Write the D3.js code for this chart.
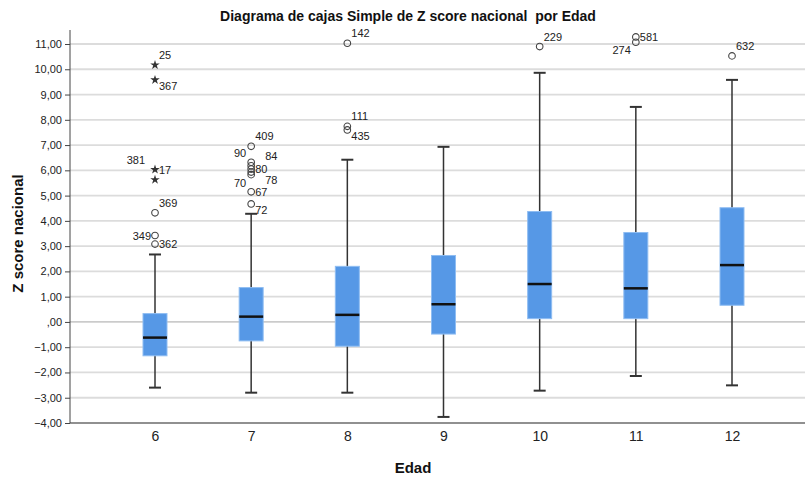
<!DOCTYPE html>
<html>
<head>
<meta charset="utf-8">
<script src="https://cdn.jsdelivr.net/npm/d3@7"></script>
<style>
  body { margin: 0; background: #fff; }
  text { font-family: "Liberation Sans", Arial, sans-serif; }
</style>
</head>
<body>
<svg id="chart" width="806" height="477"></svg>
<script>
// Edad groups and box statistics
var edades   = [6, 7, 8, 9, 10, 11, 12];
var minimos  = [-2.60, -2.80, -2.80, -3.76, -2.72, -2.14, -2.51];
var q1       = [-1.34, -0.75, -0.96, -0.48, 0.13, 0.13, 0.66];
var medianas = [-0.62, 0.21, 0.28, 0.70, 1.50, 1.33, 2.25];
var q3       = [0.33, 1.36, 2.20, 2.63, 4.37, 3.54, 4.52];
var maximos  = [2.67, 4.28, 6.42, 6.93, 9.86, 8.51, 9.58];

// outliers: group, value, case id, kind (o = atypical, * = extreme), label side
var atipicos = [
  {g: 6, v: 10.17, id: "25", k: "*", s: "ne"},
  {g: 6, v: 9.58, id: "367", k: "*", s: "se"},
  {g: 6, v: 6.03, id: "17", k: "*", s: "e"},
  {g: 6, v: 5.63, id: "381", k: "*", s: "nw2"},
  {g: 6, v: 4.32, id: "369", k: "o", s: "ne"},
  {g: 6, v: 3.42, id: "349", k: "o", s: "w"},
  {g: 6, v: 3.08, id: "362", k: "o", s: "e"},
  {g: 7, v: 6.95, id: "409", k: "o", s: "ne"},
  {g: 7, v: 6.32, id: "90", k: "o", s: "nw"},
  {g: 7, v: 6.18, id: "84", k: "o", s: "ne2"},
  {g: 7, v: 6.05, id: "80", k: "o", s: "e"},
  {g: 7, v: 5.93, id: "78", k: "o", s: "se2"},
  {g: 7, v: 5.83, id: "70", k: "o", s: "sw"},
  {g: 7, v: 5.15, id: "67", k: "o", s: "e"},
  {g: 7, v: 4.67, id: "72", k: "o", s: "se"},
  {g: 8, v: 11.03, id: "142", k: "o", s: "ne"},
  {g: 8, v: 7.74, id: "111", k: "o", s: "ne"},
  {g: 8, v: 7.60, id: "435", k: "o", s: "se"},
  {g: 10, v: 10.90, id: "229", k: "o", s: "ne"},
  {g: 11, v: 11.28, id: "581", k: "o", s: "e"},
  {g: 11, v: 11.07, id: "274", k: "o", s: "sw"},
  {g: 12, v: 10.53, id: "632", k: "o", s: "ne"}
];

var yTicks = d3.range(-4, 12, 1);

var svg = d3.select("#chart"),
    width = 806, height = 477,
    margin = {top: 30, right: 1, bottom: 54, left: 70};

var x = d3.scalePoint()
    .domain(edades)
    .range([155, 732]);

var y = d3.scaleLinear()
    .domain([-4, 11])
    .range([height - margin.bottom, 44]);

var fmt = function(d) {
  if (d === 0) return ",00";
  return d3.format(".2f")(d).replace(".", ",");
};

// grid lines
svg.append("g")
  .selectAll("line")
  .data(yTicks)
  .enter().append("line")
    .attr("x1", margin.left)
    .attr("x2", width - margin.right)
    .attr("y1", d => y(d))
    .attr("y2", d => y(d))
    .attr("stroke", d => d === 0 ? "#a6a6a6" : "#dcdcdc")
    .attr("stroke-width", d => d === 0 ? 1 : 1.8);

// y axis
var yAxis = svg.append("g")
    .attr("transform", "translate(" + margin.left + ",0)")
    .call(d3.axisLeft(y).tickValues(yTicks).tickFormat(fmt).tickSize(5).tickPadding(3));
yAxis.select(".domain").attr("d", "M0," + margin.top + "V" + y(-4)).attr("stroke", "#444");
yAxis.selectAll(".tick line").attr("stroke", "#444");
yAxis.selectAll(".tick text").attr("font-size", 11).attr("fill", "#222")
    .style("font-family", "'Liberation Sans', Arial, sans-serif");

// x axis
var xAxis = svg.append("g")
    .attr("transform", "translate(0," + y(-4) + ")")
    .call(d3.axisBottom(x).tickSize(0).tickPadding(8));
xAxis.select(".domain").attr("d", "M" + margin.left + ",0H" + (width - margin.right)).attr("stroke", "#444");
xAxis.selectAll(".tick text").attr("font-size", 14).attr("fill", "#222")
    .style("font-family", "'Liberation Sans', Arial, sans-serif");

var boxW = 24, capW = 12;

var grupos = edades.map(function(e, i) {
  return {e: e, min: minimos[i], q1: q1[i], med: medianas[i], q3: q3[i], max: maximos[i]};
});

var box = svg.append("g").selectAll("g.box")
  .data(grupos)
  .enter().append("g")
    .attr("class", "box");

// whiskers
box.append("line")
    .attr("x1", d => x(d.e)).attr("x2", d => x(d.e))
    .attr("y1", d => y(d.min)).attr("y2", d => y(d.max))
    .attr("stroke", "#333").attr("stroke-width", 1.5);
box.append("line")
    .attr("x1", d => x(d.e) - capW / 2).attr("x2", d => x(d.e) + capW / 2)
    .attr("y1", d => y(d.min)).attr("y2", d => y(d.min))
    .attr("stroke", "#333").attr("stroke-width", 2);
box.append("line")
    .attr("x1", d => x(d.e) - capW / 2).attr("x2", d => x(d.e) + capW / 2)
    .attr("y1", d => y(d.max)).attr("y2", d => y(d.max))
    .attr("stroke", "#333").attr("stroke-width", 2);

box.append("rect")
    .attr("x", d => x(d.e) - boxW / 2)
    .attr("width", boxW)
    .attr("y", d => y(d.q3))
    .attr("height", d => y(d.q1) - y(d.q3))
    .attr("fill", "#5698e6")
    .attr("stroke", "#8fbdf2")
    .attr("stroke-width", 1);

box.append("line")
    .attr("x1", d => x(d.e) - boxW / 2).attr("x2", d => x(d.e) + boxW / 2)
    .attr("y1", d => y(d.med)).attr("y2", d => y(d.med))
    .attr("stroke", "#111").attr("stroke-width", 2.5);

// outliers
var pts = svg.append("g").selectAll("g.out")
  .data(atipicos)
  .enter().append("g")
    .attr("class", "out")
    .attr("transform", d => "translate(" + x(d.g) + "," + y(d.v) + ")");

pts.filter(d => d.k === "o").append("circle")
    .attr("r", 3.3)
    .attr("fill", "none")
    .attr("stroke", "#444")
    .attr("stroke-width", 1.1);

pts.filter(d => d.k === "*").append("path")
    .attr("d", d3.symbol().type(d3.symbolStar).size(28))
    .attr("fill", "#333");

var off = {
  ne: [4, -6, "start"], se: [4, 10, "start"], e: [4, 4, "start"],
  w: [-4, 4, "end"], nw: [-5, -5, "end"], sw: [-5, 12, "end"],
  nw2: [-10, -16, "end"], ne2: [14, -6, "start"], se2: [14, 12, "start"]
};

pts.append("text")
    .attr("x", d => off[d.s][0])
    .attr("y", d => off[d.s][1])
    .attr("text-anchor", d => off[d.s][2])
    .attr("font-size", 11)
    .attr("fill", "#222")
    .text(d => d.id);

// titles
svg.append("text")
    .attr("x", 408).attr("y", 21)
    .attr("text-anchor", "middle")
    .attr("font-size", 14).attr("font-weight", "bold")
    .attr("fill", "#111")
    .style("white-space", "pre")
    .text("Diagrama de cajas Simple de Z score nacional  por Edad");

svg.append("text")
    .attr("x", 413).attr("y", 473)
    .attr("text-anchor", "middle")
    .attr("font-size", 15).attr("font-weight", "bold")
    .attr("fill", "#111")
    .text("Edad");

svg.append("text")
    .attr("transform", "translate(23," + y(3.5) + ") rotate(-90)")
    .attr("text-anchor", "middle")
    .attr("font-size", 15).attr("font-weight", "bold")
    .attr("fill", "#111")
    .text("Z score nacional");
</script>
</body>
</html>
